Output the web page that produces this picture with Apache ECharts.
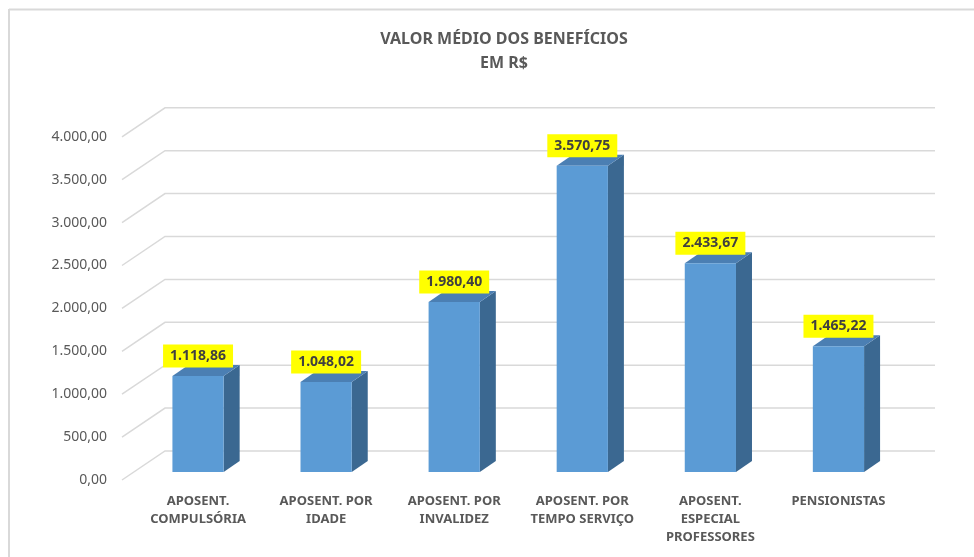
<!DOCTYPE html>
<html>
<head>
<meta charset="utf-8">
<script src="https://cdn.jsdelivr.net/npm/echarts@6/dist/echarts.min.js"></script>
<style>
  html, body { margin: 0; padding: 0; background: #fff; }
  #chart { width: 974px; height: 557px; }
</style>
</head>
<body>
<div id="chart"></div>
<script>
// dados
var categorias = ['APOSENT.\nCOMPULSÓRIA', 'APOSENT. POR\nIDADE', 'APOSENT. POR\nINVALIDEZ',
    'APOSENT. POR\nTEMPO SERVIÇO', 'APOSENT.\nESPECIAL\nPROFESSORES', 'PENSIONISTAS'];
var valores = [1118.86, 1048.02, 1980.40, 3570.75, 2433.67, 1465.22];
var rotulosValores = ['1.118,86', '1.048,02', '1.980,40', '3.570,75', '2.433,67', '1.465,22'];
var ticksY = [0, 500, 1000, 1500, 2000, 2500, 3000, 3500, 4000];
var rotulosY = ['0,00', '500,00', '1.000,00', '1.500,00', '2.000,00', '2.500,00', '3.000,00', '3.500,00', '4.000,00'];

var fonte = '"Noto Sans", "Liberation Sans", sans-serif';
var cinza = '#595959';
var linhaGrade = '#d9d9d9';

// profundidade do efeito 3D
var profBarra = [16, -11];
var frenteParede = [-12, 8];   // borda da frente da parede lateral
var fundoParede = [31, -21];   // parede do fundo
var fimGrade = 935;

var myChart = echarts.init(document.getElementById('chart'));

var option = {
    backgroundColor: '#fff',
    animation: false,
    title: {
        text: 'VALOR MÉDIO DOS BENEFÍCIOS\nEM R$',
        left: 499,
        top: 22,
        textAlign: 'center',
        textStyle: {
            fontFamily: fonte,
            fontSize: 16,
            fontWeight: 'bold',
            color: cinza,
            lineHeight: 24
        }
    },
    graphic: [
        { type: 'line', shape: { x1: 9, y1: 9.5, x2: 974, y2: 9.5 }, style: { stroke: '#d9d9d9', lineWidth: 2 } },
        { type: 'line', shape: { x1: 9, y1: 9, x2: 9, y2: 557 }, style: { stroke: '#d9d9d9', lineWidth: 2 } }
    ],
    grid: {
        left: 134,
        right: 71.5,
        top: 128.8,
        bottom: 85
    },
    xAxis: {
        type: 'category',
        data: categorias,
        axisLine: { show: false },
        axisTick: { show: false },
        axisLabel: {
            interval: 0,
            margin: 20,
            fontFamily: fonte,
            fontSize: 13,
            fontWeight: 'bold',
            color: cinza,
            lineHeight: 18,
            verticalAlign: 'top'
        }
    },
    yAxis: {
        type: 'value',
        min: 0,
        max: 4000,
        interval: 500,
        axisLine: { show: false },
        axisTick: { show: false },
        axisLabel: { show: false },
        splitLine: { show: false }
    },
    series: [
        {
            // linhas de grade em perspectiva + rotulos do eixo Y
            type: 'custom',
            z: 1,
            silent: true,
            data: ticksY.map(function (v, i) { return [0, v, i]; }),
            renderItem: function (params, api) {
                var p = api.coord([0, api.value(1)]);
                var y = p[1];
                var xs = api.coord([0, 0])[0] - api.size([1, 0])[0] / 2;
                var xf = xs + frenteParede[0], yf = y + frenteParede[1];
                var xb = xs + fundoParede[0], yb = y + fundoParede[1];
                return {
                    type: 'group',
                    children: [
                        {
                            type: 'polyline',
                            shape: { points: [[xf, yf], [xb, yb], [fimGrade, yb]] },
                            style: { stroke: linhaGrade, lineWidth: 1.5, fill: null }
                        },
                        {
                            type: 'text',
                            style: {
                                text: rotulosY[api.value(2)],
                                x: 107,
                                y: yf,
                                align: 'right',
                                verticalAlign: 'middle',
                                font: '14px ' + fonte,
                                fill: cinza
                            }
                        }
                    ]
                };
            }
        },
        {
            // barras 3D
            type: 'custom',
            z: 2,
            data: valores.map(function (v, i) { return [i, v]; }),
            renderItem: function (params, api) {
                var idx = api.value(0);
                var top = api.coord([idx, api.value(1)]);
                var base = api.coord([idx, 0]);
                var w = api.size([1, 0])[0] * 0.4;
                var x0 = top[0] - w / 2, x1 = top[0] + w / 2;
                var yt = top[1], yb = base[1];
                var dx = profBarra[0], dy = profBarra[1];
                return {
                    type: 'group',
                    children: [
                        {
                            type: 'polygon',
                            shape: { points: [[x1, yb], [x1, yt], [x1 + dx, yt + dy], [x1 + dx, yb + dy]] },
                            style: { fill: '#3b6891' }
                        },
                        {
                            type: 'polygon',
                            shape: { points: [[x0, yt], [x1, yt], [x1 + dx, yt + dy], [x0 + dx, yt + dy]] },
                            style: { fill: '#4b7fb3' }
                        },
                        {
                            type: 'rect',
                            shape: { x: x0, y: yt, width: w, height: yb - yt },
                            style: { fill: '#5b9bd5' }
                        },
                        {
                            type: 'text',
                            style: {
                                text: rotulosValores[idx],
                                x: top[0],
                                y: yt - 20,
                                align: 'center',
                                verticalAlign: 'middle',
                                font: 'bold 14px ' + fonte,
                                fill: '#404040',
                                backgroundColor: '#ffff00',
                                padding: [5, 7, 4, 7]
                            }
                        }
                    ]
                };
            }
        }
    ]
};

myChart.setOption(option);
</script>
</body>
</html>
